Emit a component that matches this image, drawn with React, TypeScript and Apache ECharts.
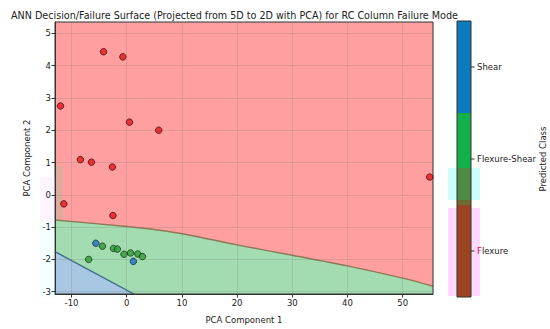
import React, { useEffect, useRef } from "react";
import * as echarts from "echarts";

const X_MIN = -13;
const X_MAX = 55.5;
const Y_MIN = -3.07;
const Y_MAX = 5.35;

const flexurePts = [
  [-12.0, 2.75], [-4.2, 4.43], [-0.7, 4.27], [0.5, 2.25], [5.8, 2.0],
  [-8.4, 1.09], [-6.4, 1.01], [-2.6, 0.86], [-11.4, -0.28], [-2.5, -0.64], [54.9, 0.55],
];
const flexShearPts = [
  [-6.9, -2.0], [-4.4, -1.59], [-2.4, -1.66], [-1.7, -1.68], [-0.5, -1.84],
  [0.7, -1.8], [2.0, -1.83], [2.85, -1.91],
];
const shearPts = [[-5.6, -1.5], [1.2, -2.06]];

// decision boundaries
const flexBoundary = [
  [-13, -0.78], [0, -0.98], [7, -1.12], [13.5, -1.32], [20, -1.55], [30, -1.87], [40, -2.2], [50, -2.58], [55.5, -2.83],
];
const shearBoundary = [[-13, -1.76], [1.3, -3.07]];
// contour artefact strip at left edge
const leftStrip = [[-13, 0.9], [-11.6, -0.8]];

const classNames = ["Flexure", "Flexure-Shear", "Shear"];

const FONT = "DejaVu Sans";
const FS = 8.5;

export default function App() {
  const ref = useRef<HTMLDivElement>(null);
  useEffect(() => {
    document.body.style.margin = "0";
    if (!ref.current) return;
    const chart = echarts.init(ref.current, undefined, { renderer: "svg" });

    const renderRegions = (params: any, api: any) => {
      const c = (p: number[]) => api.coord(p);
      const redPoly = [[X_MIN, Y_MAX], [X_MAX, Y_MAX], [X_MAX, Y_MIN], [X_MIN, Y_MIN]].map(c);
      const greenPoly = [...flexBoundary, [X_MAX, Y_MIN], [X_MIN, Y_MIN]].map(c);
      const bluePoly = [...shearBoundary, [X_MIN, Y_MIN]].map(c);
      const s0 = c(leftStrip[0]);
      const s1 = c(leftStrip[1]);
      return {
        type: "group",
        children: [
          { type: "polygon", shape: { points: redPoly }, style: { fill: "#ff9f9f" } },
          { type: "rect", shape: { x: s0[0], y: s0[1], width: s1[0] - s0[0], height: s1[1] - s0[1] }, style: { fill: "#dcab9e" } },
          { type: "polygon", shape: { points: greenPoly }, style: { fill: "#a3dcb0" } },
          { type: "polygon", shape: { points: bluePoly }, style: { fill: "#a8c7e2" } },
          { type: "polyline", shape: { points: flexBoundary.map(c), smooth: 0.3 }, style: { stroke: "#8a7a58", lineWidth: 1.4, fill: null } },
          { type: "polyline", shape: { points: shearBoundary.map(c) }, style: { stroke: "#3f6f8c", lineWidth: 1.4, fill: null } },
        ],
      };
    };

    const cbX = 457, cbW = 14, cbTop = 21, cbBot = 297;
    const third = (cbBot - cbTop) / 3;
    const tickY = [cbTop + third * 2.5, cbTop + third * 1.5, cbTop + third * 0.5];

    const axisCommon = {
      nameLocation: "middle",
      nameTextStyle: { fontFamily: FONT, fontSize: FS, color: "#222" },
      axisLine: { show: true, onZero: false, lineStyle: { color: "#333" } },
      axisTick: { show: true, length: 3.5, lineStyle: { color: "#333" } },
      axisLabel: { showMinLabel: false, showMaxLabel: false, fontFamily: FONT, fontSize: FS, color: "#222", margin: 4 },
      splitLine: { show: true, lineStyle: { color: "rgba(120,120,120,0.22)", width: 1 } },
    };

    const option: any = {
      animation: false,
      textStyle: { fontFamily: FONT },
      title: {
        text: "ANN Decision/Failure Surface (Projected from 5D to 2D with PCA) for RC Column Failure Mode",
        left: 6,
        top: 5,
        textStyle: { fontFamily: FONT, fontSize: 9.6, fontWeight: "normal", color: "#222" },
      },
      grid: { left: 55, right: 117, top: 22, bottom: 32, show: true, borderColor: "#333", borderWidth: 1, backgroundColor: "transparent" },
      xAxis: {
        ...axisCommon,
        type: "value",
        min: X_MIN,
        max: X_MAX,
        splitNumber: 7,
        name: "PCA Component 1",
        nameGap: 21,
      },
      yAxis: {
        ...axisCommon,
        type: "value",
        min: Y_MIN,
        max: Y_MAX,
        splitNumber: 8,
        name: "PCA Component 2",
        nameGap: 23,
      },
      series: [
        {
          type: "custom",
          z: -1,
          silent: true,
          clip: true,
          renderItem: renderRegions,
          data: [[X_MIN, Y_MIN]],
        },
        {
          name: classNames[0],
          type: "scatter",
          z: 5,
          symbolSize: 6.5,
          data: flexurePts,
          itemStyle: { color: "#e0161e", borderColor: "#4a0a0a", borderWidth: 1 },
        },
        {
          name: classNames[1],
          type: "scatter",
          z: 5,
          symbolSize: 6.5,
          data: flexShearPts,
          itemStyle: { color: "#2f9a3a", borderColor: "#163a16", borderWidth: 1 },
        },
        {
          name: classNames[2],
          type: "scatter",
          z: 5,
          symbolSize: 6.5,
          data: shearPts,
          itemStyle: { color: "#1f6fbf", borderColor: "#10304a", borderWidth: 1 },
        },
      ],
      graphic: [
        // faint overlay tints
        { type: "rect", shape: { x: 40, y: 177, width: 15, height: 45 }, style: { fill: "rgba(255,200,255,0.18)" }, z: 0 },
        { type: "rect", shape: { x: 40, y: 222, width: 15, height: 75 }, style: { fill: "rgba(200,255,255,0.2)" }, z: 0 },
        { type: "rect", shape: { x: 448, y: 168, width: 32, height: 32 }, style: { fill: "rgba(190,255,255,0.8)" }, z: 0 },
        { type: "rect", shape: { x: 448, y: 208, width: 32, height: 88 }, style: { fill: "rgba(255,205,255,0.8)" }, z: 0 },
        // colorbar
        { type: "rect", shape: { x: cbX, y: cbTop, width: cbW, height: third }, style: { fill: "#0c7bbb" }, z: 10 },
        { type: "rect", shape: { x: cbX, y: cbTop + third, width: cbW, height: third }, style: { fill: "#12b04a" }, z: 10 },
        { type: "rect", shape: { x: cbX, y: 168, width: cbW, height: 32 }, style: { fill: "#4d8b45" }, z: 10 },
        { type: "rect", shape: { x: cbX, y: 200, width: cbW, height: cbTop + 2 * third - 200 }, style: { fill: "#6e6a30" }, z: 10 },
        { type: "rect", shape: { x: cbX, y: cbTop + 2 * third, width: cbW, height: third }, style: { fill: "#9a4420" }, z: 10 },
        { type: "rect", shape: { x: cbX, y: cbTop, width: cbW, height: cbBot - cbTop }, style: { fill: null, stroke: "#333", lineWidth: 1 }, z: 11 },
        ...tickY.map((y) => ({ type: "line", shape: { x1: cbX + cbW, y1: y, x2: cbX + cbW + 3.5, y2: y }, style: { stroke: "#333", lineWidth: 1 }, z: 11 })),
        { type: "text", x: cbX + cbW + 6, y: tickY[2], style: { text: classNames[2], fontFamily: FONT, fontSize: FS, fill: "#222", verticalAlign: "middle" }, z: 11 },
        { type: "text", x: cbX + cbW + 6, y: tickY[1], style: { text: classNames[1], fontFamily: FONT, fontSize: FS, fill: "#222", verticalAlign: "middle" }, z: 11 },
        {
          type: "text", x: cbX + cbW + 6, y: tickY[0], z: 11,
          style: {
            text: "{f|F}{r|lexure}",
            fontFamily: FONT, fontSize: FS, verticalAlign: "middle",
            rich: { f: { fill: "#d0104a", fontFamily: FONT, fontSize: FS }, r: { fill: "#222", fontFamily: FONT, fontSize: FS } },
          },
        },
        {
          type: "text", x: 543, y: 159, rotation: Math.PI / 2, z: 11,
          style: { text: "Predicted Class", fontFamily: FONT, fontSize: FS, fill: "#222", align: "center", verticalAlign: "middle" },
        },
      ],
    };
    chart.setOption(option);
    return () => chart.dispose();
  }, []);
  return <div ref={ref} style={{ width: 550, height: 329 }} />;
}
